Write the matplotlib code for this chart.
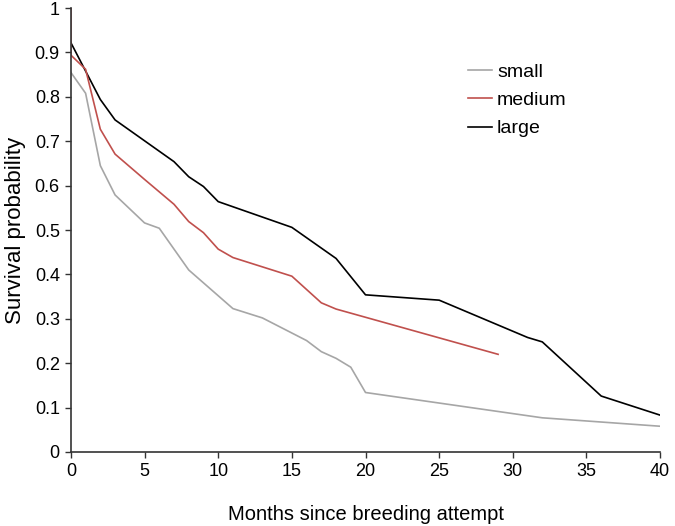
import matplotlib
matplotlib.use("Agg")
import matplotlib.pyplot as plt

plt.rcParams["font.family"] = ["Liberation Sans", "DejaVu Sans"]

# survival curves
small_months = [0, 1, 2, 3, 5, 6, 8, 11, 13, 16, 17, 18, 19, 20, 32, 40]
small_surv = [0.855, 0.808, 0.645, 0.579, 0.516, 0.504, 0.41, 0.323, 0.302,
              0.251, 0.226, 0.211, 0.191, 0.134, 0.077, 0.058]

medium_months = [0, 0, 1, 2, 3, 5, 7, 8, 9, 10, 11, 15, 17, 18, 29]
medium_surv = [1.0, 0.894, 0.862, 0.727, 0.671, 0.614, 0.558, 0.519, 0.494,
               0.457, 0.438, 0.396, 0.336, 0.322, 0.220]

large_months = [0, 1, 2, 3, 7, 8, 9, 10, 15, 18, 20, 25, 31, 32, 36, 40]
large_surv = [0.922, 0.858, 0.794, 0.748, 0.654, 0.62, 0.598, 0.564, 0.506,
              0.436, 0.354, 0.342, 0.258, 0.248, 0.126, 0.083]

x_ticks = list(range(0, 41, 5))
y_ticks = [0, 0.1, 0.2, 0.3, 0.4, 0.5, 0.6, 0.7, 0.8, 0.9, 1]
y_tick_labels = ["0", "0.1", "0.2", "0.3", "0.4", "0.5", "0.6", "0.7", "0.8", "0.9", "1"]

fig = plt.figure(figsize=(6.75, 5.26), dpi=100)
ax = fig.add_axes([0.105, 0.1407, 0.873, 0.844])

ax.plot(large_months, large_surv, color="#000000", lw=1.2, label="large")
ax.plot(small_months, small_surv, color="#a6a6a6", lw=1.2, label="small")
ax.plot(medium_months, medium_surv, color="#c0504d", lw=1.2, label="medium")

ax.set_xlim(0, 40)
ax.set_ylim(0, 1)
ax.set_xticks(x_ticks)
ax.set_yticks(y_ticks)
ax.set_yticklabels(y_tick_labels)
ax.tick_params(direction="out", length=4, width=1, labelsize=13, color="#333333", pad=4)

for side in ("top", "right"):
    ax.spines[side].set_visible(False)
for side in ("left", "bottom"):
    ax.spines[side].set_color("#333333")
    ax.spines[side].set_linewidth(1.2)

ax.set_xlabel("Months since breeding attempt", fontsize=14.5, labelpad=18)
ax.set_ylabel("Survival probability", fontsize=16, labelpad=6)

handles, labels = ax.get_legend_handles_labels()
order = [labels.index(n) for n in ("small", "medium", "large")]
ax.legend([handles[i] for i in order], [labels[i] for i in order],
          frameon=False, fontsize=14, loc="upper left",
          bbox_to_anchor=(0.693, 0.880), bbox_transform=fig.transFigure,
          borderpad=0, borderaxespad=0, handlelength=1.25, handletextpad=0.25,
          labelspacing=0.55)

fig.savefig("out.png", dpi=100)
